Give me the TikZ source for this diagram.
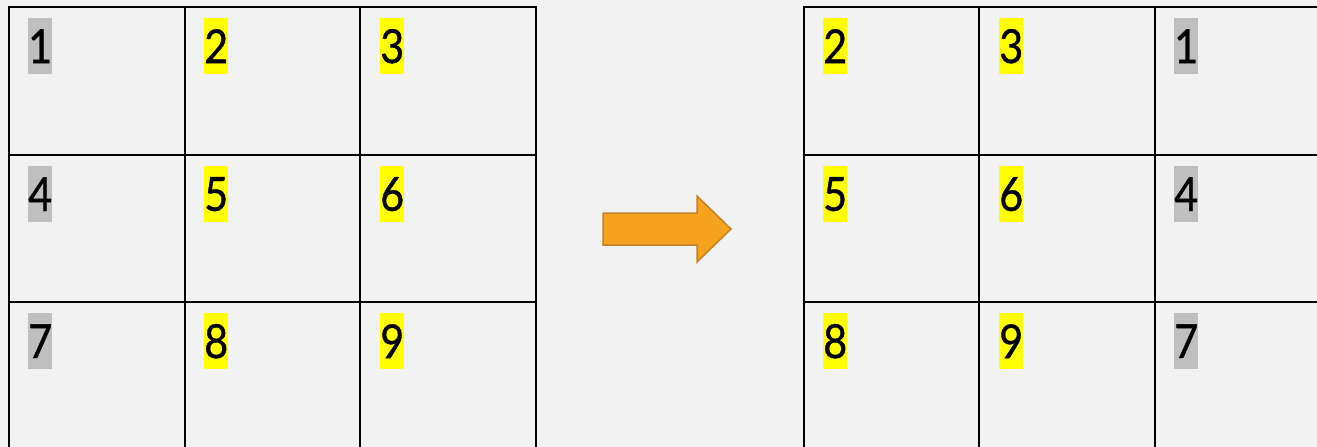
\documentclass[tikz,border=0pt]{standalone}
\usepackage{fontspec}
\newfontfamily\digitfont[FakeStretch=0.88,FakeBold=0.8]{Lato}
\definecolor{bg}{HTML}{F2F2F2}
\definecolor{hlgray}{HTML}{BFBFBF}
\definecolor{hlyellow}{HTML}{FFFF00}
\definecolor{arrowfill}{HTML}{F5A31F}
\definecolor{arrowline}{HTML}{C1822A}
\tikzset{
  cellnum/.style={anchor=north west, inner sep=0pt, minimum width=24pt, minimum height=56pt,
    font=\digitfont\fontsize{47}{47}\selectfont, text=black},
  gnum/.style={cellnum, fill=hlgray},
  ynum/.style={cellnum, fill=hlyellow},
  gridline/.style={line width=2.2pt, black},
}
\begin{document}
\begin{tikzpicture}[x=1pt,y=-1pt]
\fill[bg] (0,0) rectangle (1317,447);
\useasboundingbox (0,0) rectangle (1317,447);
% left grid
\draw[gridline] (9,460) -- (9,7) -- (536,7) -- (536,460);
\draw[gridline] (185,7) -- (185,460);
\draw[gridline] (360,7) -- (360,460);
\draw[gridline] (9,155) -- (536,155);
\draw[gridline] (9,302) -- (536,302);
% right grid
\draw[gridline] (804,460) -- (804,7) -- (1330,7);
\draw[gridline] (979,7) -- (979,460);
\draw[gridline] (1155,7) -- (1155,460);
\draw[gridline] (804,155) -- (1330,155);
\draw[gridline] (804,302) -- (1330,302);
% left numbers
\node[gnum] (L1) at (28,18) {1};
\node[ynum] (L2) at (204,18) {2};
\node[ynum] (L3) at (380,18) {3};
\node[gnum] (L4) at (28,166) {4};
\node[ynum] (L5) at (204,166) {5};
\node[ynum] (L6) at (380,166) {6};
\node[gnum] (L7) at (28,313) {7};
\node[ynum] (L8) at (204,313) {8};
\node[ynum] (L9) at (380,313) {9};
% right numbers
\node[ynum] (R2) at (823,18) {2};
\node[ynum] (R3) at (999,18) {3};
\node[gnum] (R1) at (1174,18) {1};
\node[ynum] (R5) at (823,166) {5};
\node[ynum] (R6) at (999,166) {6};
\node[gnum] (R4) at (1174,166) {4};
\node[ynum] (R8) at (823,313) {8};
\node[ynum] (R9) at (999,313) {9};
\node[gnum] (R7) at (1174,313) {7};
% arrow
\draw[fill=arrowfill, draw=arrowline, line width=1.5pt, line join=miter]
  (603,213) -- (697,213) -- (697,196) -- (731,229) -- (697,262) -- (697,245) -- (603,245) -- cycle;
\end{tikzpicture}
\end{document}
